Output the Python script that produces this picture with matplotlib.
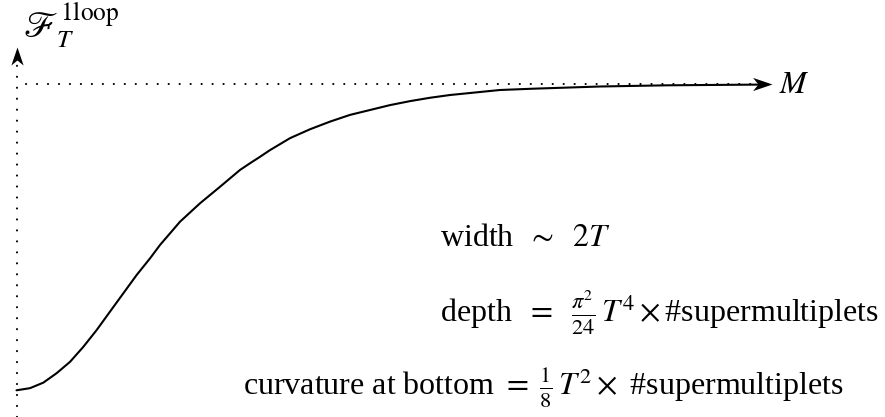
import matplotlib
matplotlib.use("Agg")
import matplotlib.pyplot as plt
from matplotlib.path import Path

plt.rcParams["font.family"] = ["Liberation Serif", "DejaVu Serif"]
plt.rcParams["mathtext.fontset"] = "stix"
plt.rcParams["lines.scale_dashes"] = False

# one-loop free energy vs M (arbitrary units)
mass = [0.0, 0.179, 0.355, 0.532, 0.709, 0.885, 1.062, 1.238, 1.415, 1.592,
        1.768, 1.901, 2.166, 2.430, 2.695, 2.960, 3.093, 3.225, 3.358, 3.623,
        3.887, 4.152, 4.417, 4.682, 4.947, 5.212, 5.477, 5.742, 6.404, 6.841,
        7.728, 8.616, 9.490, 9.85]
free_energy = [-1.0, -0.993, -0.975, -0.944, -0.907, -0.858, -0.803, -0.743,
               -0.683, -0.623, -0.569, -0.525, -0.449, -0.389, -0.335, -0.280,
               -0.258, -0.237, -0.215, -0.176, -0.147, -0.122, -0.100, -0.084,
               -0.068, -0.055, -0.044, -0.035, -0.0186, -0.0144, -0.0072,
               -0.0033, -0.0016, -0.001]

W, H = 885, 417
fig = plt.figure(figsize=(W / 100, H / 100), dpi=100)
ax = fig.add_axes([0, 0, 1, 1])
ax.axis("off")

# pixel layout -> data: x0=16.5px, 75.5px per unit; F=0 at 84.3px, 306px per unit
x0, xs = 16.5, 75.5
y0, ys = 84.3, 306.0
ax.set_xlim(-x0 / xs, (W - x0) / xs)
ax.set_ylim(-(H - y0) / ys, y0 / ys)

xmax = (772 - x0) / xs
ytop = (y0 - 47) / ys
ybot = -(H - y0) / ys

dots = (0, (0.1, 7.8))
ax.plot([0.12, xmax - 0.15], [0, 0], color="black", lw=1.5,
        linestyle=dots, dash_capstyle="round")
ax.plot([0, 0], [ybot, ytop - 0.05], color="black", lw=1.5,
        linestyle=dots, dash_capstyle="round")

# stealth-like arrow heads, tip at the origin of the marker path
def head(angle):
    pts = [(0, 0), (-1, 0.34), (-0.72, 0), (-1, -0.34), (0, 0)]
    if angle == 90:
        pts = [(-y, x) for x, y in pts]
    codes = [Path.MOVETO] + [Path.LINETO] * 3 + [Path.CLOSEPOLY]
    return Path(pts, codes)

ax.plot([xmax], [0], marker=head(0), ms=28, color="black", mew=0)
ax.plot([0], [ytop], marker=head(90), ms=26, color="black", mew=0)

ax.plot(mass, free_energy, color="black", lw=1.5, solid_capstyle="round")

ax.text(xmax + 0.09, -0.005, "$M$", fontsize=23, ha="left", va="center")
fig.text(23 / W, 1 - 38 / H, r"$\mathscr{F}_T^{\mathrm{1loop}}$",
         fontsize=26, ha="left", va="baseline")

fs = 23
fig.text(440 / W, 1 - 246 / H, r"width $\;\sim\;$ $2T$", fontsize=fs,
         ha="left", va="baseline")
fig.text(440 / W, 1 - 322 / H,
         r"depth $\;=\;$ $\frac{\pi^2}{24}\,T^4\times$#supermultiplets",
         fontsize=fs, ha="left", va="baseline")
fig.text(243 / W, 1 - 395 / H,
         r"curvature at bottom $=\;\frac{1}{8}\,T^2\times$ #supermultiplets",
         fontsize=fs, ha="left", va="baseline")

fig.savefig("out.png", dpi=100)
